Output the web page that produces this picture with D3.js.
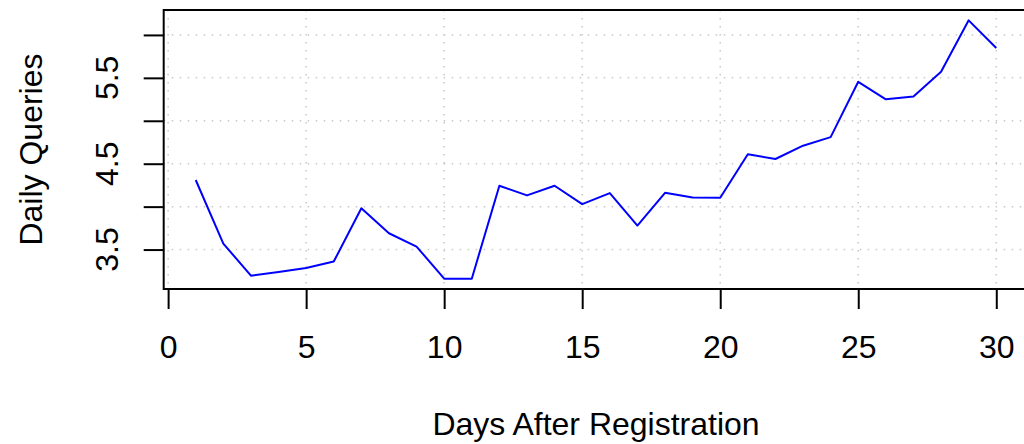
<!DOCTYPE html>
<html>
<head>
<meta charset="utf-8">
<script src="https://cdn.jsdelivr.net/npm/d3@7.9.0/dist/d3.min.js"></script>
<style>
  html, body { margin: 0; padding: 0; background: #fff; }
  svg { display: block; font-family: "Liberation Sans", Arial, Helvetica, sans-serif; }
</style>
</head>
<body>
<div id="chart"></div>
<script>
// data
const days = d3.range(1, 31);
const queries = [4.31, 3.57, 3.196, 3.239, 3.285, 3.36, 3.982, 3.69, 3.535, 3.161,
                 3.161, 4.243, 4.131, 4.243, 4.029, 4.158, 3.78, 4.161, 4.107, 4.103,
                 4.61, 4.555, 4.71, 4.81, 5.454, 5.25, 5.283, 5.571, 6.17, 5.848];
const xTicks = [0, 5, 10, 15, 20, 25, 30];
const yTicks = [3.5, 4.0, 4.5, 5.0, 5.5, 6.0];
const yLabels = [3.5, 4.5, 5.5];

const width = 1024;
const height = 444;
const box = { left: 163.7, right: 1028.3, top: 10, bottom: 289 };
const fontSize = 32;

// R style axis limits: data range padded by 4%
function pad(ext) {
  const d = (ext[1] - ext[0]) * 0.04;
  return [ext[0] - d, ext[1] + d];
}

const xScale = d3.scaleLinear()
  .domain(pad(d3.extent(days)))
  .range([box.left, box.right]);

const yScale = d3.scaleLinear()
  .domain(pad(d3.extent(queries)))
  .range([box.bottom, box.top]);

const svg = d3.select('#chart')
  .append('svg')
  .attr('width', width)
  .attr('height', height);

// gridlines
const grid = svg.append('g')
  .attr('stroke', '#c8c8c8')
  .attr('stroke-width', 1.5)
  .attr('stroke-dasharray', '1.5,6.5');

grid.selectAll('line.gx')
  .data(xTicks)
  .join('line')
  .attr('class', 'gx')
  .attr('x1', d => xScale(d)).attr('x2', d => xScale(d))
  .attr('y1', box.top).attr('y2', box.bottom);

grid.selectAll('line.gy')
  .data(yTicks)
  .join('line')
  .attr('class', 'gy')
  .attr('x1', box.left).attr('x2', box.right)
  .attr('y1', d => yScale(d)).attr('y2', d => yScale(d));

// the series
const line = d3.line()
  .x((d, i) => xScale(days[i]))
  .y(d => yScale(d));

svg.append('path')
  .datum(queries)
  .attr('d', line)
  .attr('fill', 'none')
  .attr('stroke', '#0000ff')
  .attr('stroke-width', 2)
  .attr('stroke-linejoin', 'round');

// box
svg.append('rect')
  .attr('x', box.left).attr('y', box.top)
  .attr('width', box.right - box.left)
  .attr('height', box.bottom - box.top)
  .attr('fill', 'none')
  .attr('stroke', '#000')
  .attr('stroke-width', 2);

// x axis
const xAxis = d3.axisBottom(xScale)
  .tickValues(xTicks)
  .tickSize(20)
  .tickFormat(d3.format('d'));

const gx = svg.append('g')
  .attr('transform', `translate(0, ${box.bottom})`)
  .call(xAxis);
gx.select('.domain').remove();
gx.selectAll('.tick line').attr('stroke', '#000').attr('stroke-width', 2);
gx.selectAll('.tick text')
  .attr('y', 69)
  .attr('dy', null)
  .attr('font-size', fontSize)
  .attr('font-family', null)
  .attr('fill', '#000');

// y axis
const yAxis = d3.axisLeft(yScale)
  .tickValues(yTicks)
  .tickSize(20)
  .tickFormat('');

const gy = svg.append('g')
  .attr('transform', `translate(${box.left}, 0)`)
  .call(yAxis);
gy.select('.domain').remove();
gy.selectAll('.tick line').attr('stroke', '#000').attr('stroke-width', 2);

svg.append('g')
  .selectAll('text')
  .data(yLabels)
  .join('text')
  .attr('transform', d => `translate(118, ${yScale(d)}) rotate(-90)`)
  .attr('text-anchor', 'middle')
  .attr('font-size', fontSize)
  .attr('fill', '#000')
  .text(d => d3.format('.1f')(d));

// axis titles
svg.append('text')
  .attr('x', (box.left + box.right) / 2)
  .attr('y', 435)
  .attr('text-anchor', 'middle')
  .attr('font-size', fontSize)
  .text('Days After Registration');

svg.append('text')
  .attr('transform', `translate(42, ${(box.top + box.bottom) / 2}) rotate(-90)`)
  .attr('text-anchor', 'middle')
  .attr('font-size', fontSize)
  .text('Daily Queries');
</script>
</body>
</html>
